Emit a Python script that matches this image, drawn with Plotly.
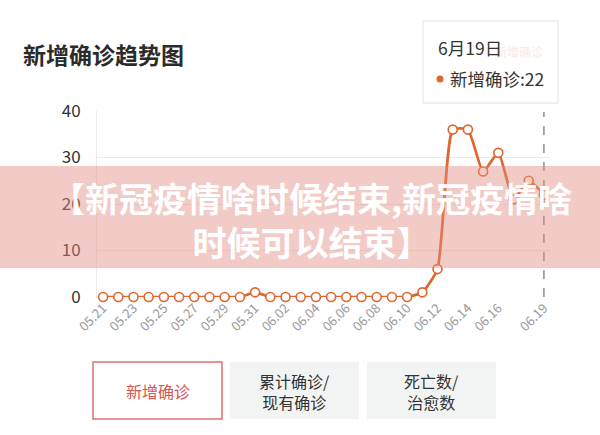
import plotly.graph_objects as go

# ---- data ----
dates = ["05.21", "05.22", "05.23", "05.24", "05.25", "05.26", "05.27", "05.28", "05.29", "05.30",
         "05.31", "06.01", "06.02", "06.03", "06.04", "06.05", "06.06", "06.07", "06.08", "06.09",
         "06.10", "06.11", "06.12", "06.13", "06.14", "06.15", "06.16", "06.17", "06.18", "06.19"]
new_cases = [0, 0, 0, 0, 0, 0, 0, 0, 0, 0,
             1, 0, 0, 0, 0, 0, 0, 0, 0, 0,
             0, 1, 6, 36, 36, 27, 31, 21, 25, 22]
x_tick_labels = ["05.21", "05.23", "05.25", "05.27", "05.29", "05.31", "06.02", "06.04",
                 "06.06", "06.08", "06.10", "06.12", "06.14", "06.16", "06.19"]
y_ticks = [0, 10, 20, 30, 40]
series_name = "新增确诊"
title_text = "新增确诊趋势图"
tooltip_date = "6月19日"
tooltip_value = 22
banner_text = "【新冠疫情啥时候结束,新冠疫情啥<br>时候可以结束】"
buttons = ["新增确诊", "累计确诊/<br>现有确诊", "死亡数/<br>治愈数"]

# ---- geometry helpers (pixel -> paper) ----
L, R, T, B = 97, 550, 111, 297
W, H = R - L, B - T
def px(x): return (x - L) / W
def py(y): return (B - y) / H

ORANGE = "#E0652E"
FONT = "Noto Sans CJK SC"

fig = go.Figure()
fig.add_trace(go.Scatter(
    x=list(range(len(dates))), y=new_cases, mode="lines+markers", name=series_name,
    line=dict(color=ORANGE, width=2.7, shape="spline", smoothing=0.5),
    marker=dict(size=9, color="white", line=dict(color=ORANGE, width=1.6)),
    cliponaxis=False, showlegend=False, hoverinfo="skip"))

shapes = []
annotations = []

# axis pointer dashed line at last date
last_idx = len(dates) - 1
shapes.append(dict(type="line", xref="x", yref="paper", x0=last_idx, x1=last_idx,
                   y0=py(297), y1=py(112), line=dict(color="#8c8c8c", width=1.5, dash="dash"),
                   layer="above"))

# faint legend behind tooltip
annotations.append(dict(xref="paper", yref="paper", x=px(493), y=py(51), text=series_name,
                        showarrow=False, xanchor="left", yanchor="middle",
                        font=dict(family=FONT, size=12, color="#F6EAE4")))
shapes.append(dict(type="rect", xref="paper", yref="paper", x0=px(482), x1=px(489),
                   y0=py(54), y1=py(48), fillcolor="#F8E8E0", line=dict(width=0)))

# tooltip box
shapes.append(dict(type="rect", xref="paper", yref="paper", x0=px(423), x1=px(558),
                   y0=py(103), y1=py(21), fillcolor="rgba(255,255,255,0.85)",
                   line=dict(color="#E2E2E2", width=1)))
annotations.append(dict(xref="paper", yref="paper", x=px(436), y=py(47), text=tooltip_date,
                        showarrow=False, xanchor="left", yanchor="middle",
                        font=dict(family=FONT, size=17.5, color="#333333")))
shapes.append(dict(type="circle", xref="paper", yref="paper", x0=px(436.5), x1=px(443.5),
                   y0=py(82.5), y1=py(75.5), fillcolor=ORANGE, line=dict(width=0)))
annotations.append(dict(xref="paper", yref="paper", x=px(448), y=py(79),
                        text=f"{series_name}:{tooltip_value}",
                        showarrow=False, xanchor="left", yanchor="middle",
                        font=dict(family=FONT, size=17.5, color="#333333")))

# title
annotations.append(dict(xref="paper", yref="paper", x=px(21), y=py(54), text=f"<b>{title_text}</b>",
                        showarrow=False, xanchor="left", yanchor="middle",
                        font=dict(family=FONT, size=23, color="#2b2b2b")))

# bottom buttons
btn_x = [(93, 222), (230, 359), (367, 496)]
for i, (bx0, bx1) in enumerate(btn_x):
    if i == 0:
        shapes.append(dict(type="rect", xref="paper", yref="paper", x0=px(bx0), x1=px(bx1),
                           y0=py(419), y1=py(362), fillcolor="white",
                           line=dict(color="#DD7070", width=1.5)))
        color = "#D9534F"
    else:
        shapes.append(dict(type="rect", xref="paper", yref="paper", x0=px(bx0), x1=px(bx1),
                           y0=py(419), y1=py(362), fillcolor="#F2F3F3", line=dict(width=0)))
        color = "#333333"
    annotations.append(dict(xref="paper", yref="paper", x=px((bx0 + bx1) / 2), y=py(391),
                            text=buttons[i], showarrow=False, xanchor="center", yanchor="middle",
                            font=dict(family=FONT, size=16, color=color)))

# banner overlay
shapes.append(dict(type="rect", xref="paper", yref="paper", x0=px(0), x1=px(600),
                   y0=py(268), y1=py(166), fillcolor="rgba(226,140,128,0.45)",
                   line=dict(width=0), layer="above"))
annotations.append(dict(xref="paper", yref="paper", x=px(311), y=py(219),
                        text=f"<b>{banner_text}</b>", showarrow=False,
                        xanchor="center", yanchor="middle", align="center",
                        font=dict(family=FONT, size=34, color="white")))

fig.update_layout(
    width=600, height=435,
    margin=dict(l=L, r=600 - R, t=T, b=435 - B),
    paper_bgcolor="white", plot_bgcolor="white",
    shapes=shapes, annotations=annotations,
    xaxis=dict(range=[-0.4, 29.4], tickmode="array",
               tickvals=[dates.index(t) for t in x_tick_labels], ticktext=x_tick_labels,
               tickangle=-45,
               showgrid=False, zeroline=False, showline=False, ticks="",
               tickfont=dict(family=FONT, size=13, color="#999999"),
               fixedrange=True),
    yaxis=dict(range=[0, 40], tickvals=y_ticks, showgrid=True, gridcolor="#EBEBEB",
               gridwidth=1, zeroline=False, showline=True, linecolor="#EBEBEB",
               ticks="", ticklabelstandoff=12,
               tickfont=dict(family=FONT, size=17, color="#333333"), fixedrange=True),
    font=dict(family=FONT),
    showlegend=False,
)

fig.write_html("out.html", config={"displayModeBar": False},
               post_script="document.body.style.margin='0';")
